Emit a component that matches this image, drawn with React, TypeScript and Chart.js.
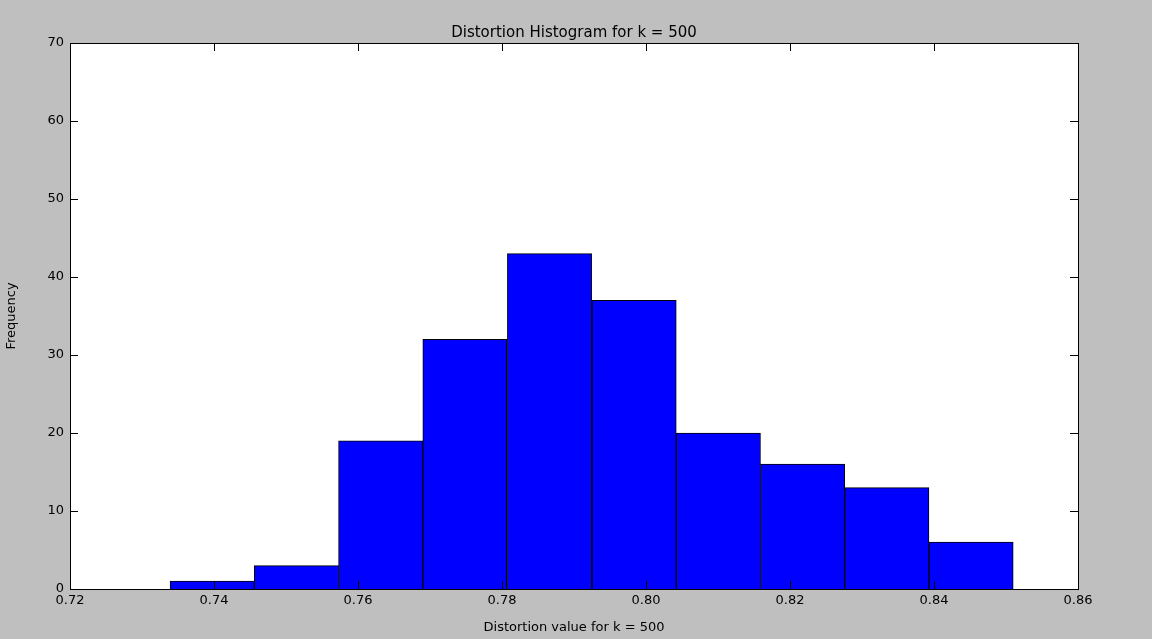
import React, { useEffect, useRef } from "react";
import { Chart, registerables } from "chart.js";
Chart.register(...registerables);

const binEdges = [0.7339, 0.7456, 0.7573, 0.7690, 0.7807, 0.7925, 0.8042, 0.8159, 0.8276, 0.8393, 0.8510];
const counts = [1, 3, 19, 32, 43, 37, 20, 16, 13, 6];
const titleText = "Distortion Histogram for k = 500";
const xLabel = "Distortion value for k = 500";
const yLabel = "Frequency";

const FONT = "DejaVu Sans";

const framePlugin = {
  id: "frame",
  afterDatasetsDraw(chart: any) {
    const { ctx, chartArea: a, scales } = chart;
    ctx.save();
    ctx.strokeStyle = "#000";
    ctx.lineWidth = 1;
    ctx.strokeRect(a.left + 0.5, a.top + 0.5, a.right - a.left, a.bottom - a.top);
    ctx.beginPath();
    scales.x.ticks.forEach((t: any) => {
      const px = Math.round(scales.x.getPixelForValue(t.value)) + 0.5;
      ctx.moveTo(px, a.bottom); ctx.lineTo(px, a.bottom - 8);
      ctx.moveTo(px, a.top); ctx.lineTo(px, a.top + 8);
    });
    scales.y.ticks.forEach((t: any) => {
      const py = Math.round(scales.y.getPixelForValue(t.value)) + 0.5;
      ctx.moveTo(a.left, py); ctx.lineTo(a.left + 8, py);
      ctx.moveTo(a.right, py); ctx.lineTo(a.right - 8, py);
    });
    ctx.stroke();
    ctx.fillStyle = "#000";
    ctx.font = `15px ${FONT}`;
    ctx.textAlign = "center";
    ctx.textBaseline = "middle";
    ctx.fillText(titleText, (a.left + a.right) / 2, 33);
    ctx.restore();
  },
};

export default function App() {
  const ref = useRef<HTMLCanvasElement>(null);
  useEffect(() => {
    document.body.style.margin = "0";
    document.body.style.background = "#bfbfbf";
    const data = counts.map((c, i) => ({ x: (binEdges[i] + binEdges[i + 1]) / 2, y: c }));
    const chart = new Chart(ref.current!, {
      type: "bar",
      data: {
        datasets: [{
          data,
          backgroundColor: "#0000ff",
          borderColor: "#000",
          borderWidth: 1,
          barPercentage: 1,
          categoryPercentage: 1,
        }],
      },
      plugins: [framePlugin, {
        id: "bgwhite",
        beforeDatasetsDraw(c: any) {
          const a = c.chartArea;
          c.ctx.save(); c.ctx.fillStyle = "#fff";
          c.ctx.fillRect(a.left, a.top, a.right - a.left, a.bottom - a.top);
          c.ctx.restore();
        },
      }],
      options: {
        animation: false,
        responsive: false,
        layout: { padding: { top: 43, right: 74, left: 0, bottom: 0 } },
        plugins: { legend: { display: false }, tooltip: { enabled: false } },
        scales: {
          x: {
            type: "linear", min: 0.72, max: 0.86, offset: false,
            ticks: { stepSize: 0.02, color: "#000", font: { family: FONT, size: 13 }, padding: 4,
              callback: (v: any) => Number(v).toFixed(2) },
            grid: { display: false, drawTicks: false },
            border: { display: false },
            title: { display: true, text: xLabel, color: "#000", font: { family: FONT, size: 13 }, padding: { top: 4 } },
            afterFit: (s: any) => { s.height = 50; },
          },
          y: {
            min: 0, max: 70,
            ticks: { stepSize: 10, color: "#000", font: { family: FONT, size: 13 }, padding: 6 },
            grid: { display: false, drawTicks: false },
            border: { display: false },
            title: { display: true, text: yLabel, color: "#000", font: { family: FONT, size: 13 }, padding: { bottom: 8 } },
            afterFit: (s: any) => { s.width = 70; },
          },
        },
      } as any,
    });
    return () => chart.destroy();
  }, []);
  return <canvas ref={ref} width={1152} height={639} style={{ display: "block" }} />;
}
